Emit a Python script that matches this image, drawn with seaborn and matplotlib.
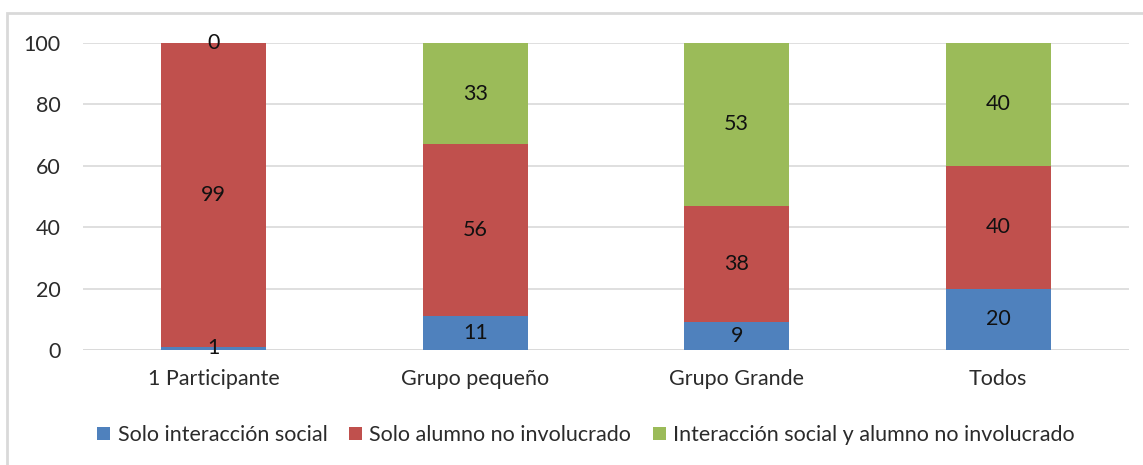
import matplotlib
matplotlib.use("Agg")
import matplotlib.pyplot as plt
from matplotlib.patches import Rectangle, Patch
import numpy as np
import pandas as pd
import seaborn as sns

categories = ["1 Participante", "Grupo pequeño", "Grupo Grande", "Todos"]
series_names = ["Solo interacción social", "Solo alumno no involucrado",
                "Interacción social y alumno no involucrado"]
solo_interaccion = [1, 11, 9, 20]
solo_no_involucrado = [99, 56, 38, 40]
ambos = [0, 33, 53, 40]
y_ticks = [0, 20, 40, 60, 80, 100]

colors = ["#4F81BD", "#C0504D", "#9BBB59"]
text_color = "#2b2b2b"
fs = 15.5

sns.set_theme(style="white")
plt.rcParams["font.family"] = ["Lato", "DejaVu Sans"]

fig = plt.figure(figsize=(11.43, 4.65), dpi=100)
ax = fig.add_axes([83 / 1143, 115 / 465, (1129 - 83) / 1143, 307 / 465])

layers = [solo_interaccion, solo_no_involucrado, ambos]
cum = np.cumsum(np.array(layers, dtype=float), axis=0)

# stacked bars: draw cumulative totals from the top layer down
for i in range(len(layers) - 1, -1, -1):
    df = pd.DataFrame({"cat": categories, "val": cum[i]})
    sns.barplot(data=df, x="cat", y="val", color=colors[i], width=0.4,
                saturation=1, ax=ax, zorder=2, linewidth=0)

# value labels centred in each segment
for i, vals in enumerate(layers):
    for j, v in enumerate(vals):
        base = cum[i][j] - v
        ax.text(j, base + v / 2, f"{v}", ha="center", va="center",
                fontsize=fs, color="#111111", zorder=4, clip_on=False)

ax.set_ylim(0, 100)
ax.set_xlim(-0.5, len(categories) - 0.5)
ax.set_yticks(y_ticks)
ax.yaxis.grid(True, color="#D9D9D9", linewidth=1.2, zorder=0)
ax.set_axisbelow(True)
for s in ax.spines.values():
    s.set_visible(False)
ax.axhline(0, color="#D9D9D9", linewidth=1.2, zorder=1)
ax.set_xlabel("")
ax.set_ylabel("")
ax.tick_params(axis="y", length=0, pad=16, labelsize=fs, labelcolor=text_color)
ax.tick_params(axis="x", length=0, pad=14, labelsize=fs, labelcolor=text_color)

handles = [Patch(facecolor=c, edgecolor="none") for c in colors]
fig.legend(handles, series_names, loc="center", bbox_to_anchor=(586 / 1143, 30 / 465),
           ncol=3, frameon=False, fontsize=fs, handlelength=0.6, handleheight=0.6,
           handletextpad=0.35, columnspacing=1.0, labelcolor=text_color)

# outer chart frame (extends past the right and bottom edges)
fig.patches.append(Rectangle((7 / 1143, -0.05), 1.2, (465 - 13) / 465 + 0.05,
                             transform=fig.transFigure, fill=False,
                             edgecolor="#D9D9D9", linewidth=2, zorder=0))

fig.savefig("out.png", dpi=100)
